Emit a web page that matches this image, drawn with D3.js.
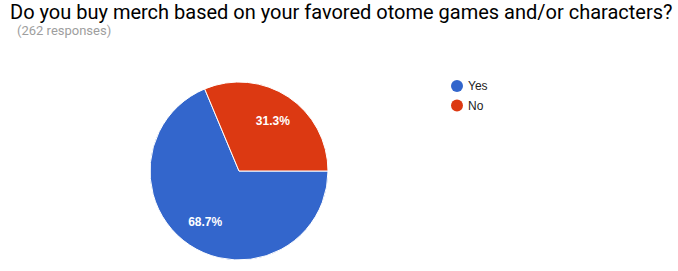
<!DOCTYPE html>
<html>
<head>
<meta charset="utf-8">
<script src="https://cdn.jsdelivr.net/npm/d3@7"></script>
<style>
  html, body { margin: 0; padding: 0; background: #fff; }
  svg { display: block; }
</style>
</head>
<body>
<svg id="chart" width="678" height="271"></svg>
<script>
// Survey answers and their share of the 262 responses
const categories = ["Yes", "No"];
const values = [68.7, 31.3];
const colors = ["#3366cc", "#dc3912"];
const title = "Do you buy merch based on your favored otome games and/or characters?";
const subtitle = "(262 responses)";

const svg = d3.select("#chart");

svg.append("text")
  .attr("x", 10)
  .attr("y", 19)
  .attr("font-family", "Roboto, sans-serif")
  .attr("font-size", 20)
  .attr("fill", "#000")
  .text(title);

svg.append("text")
  .attr("x", 17)
  .attr("y", 35)
  .attr("font-family", "Roboto, sans-serif")
  .attr("font-size", 13)
  .attr("fill", "#9e9e9e")
  .text(subtitle);

// Pie, first slice starting at 3 o'clock and running clockwise
const cx = 239, cy = 171, r = 89;
const data = categories.map((c, i) => ({ name: c, value: values[i], color: colors[i] }));

const pie = d3.pie()
  .value(d => d.value)
  .sort(null)
  .startAngle(Math.PI / 2)
  .endAngle(Math.PI / 2 + 2 * Math.PI);

const arc = d3.arc().innerRadius(0).outerRadius(r);
const labelArc = d3.arc().innerRadius(122).outerRadius(0);

const g = svg.append("g").attr("transform", `translate(${cx},${cy})`);
const arcs = pie(data);

g.selectAll("path.slice")
  .data(arcs)
  .join("path")
  .attr("class", "slice")
  .attr("d", arc)
  .attr("fill", d => d.data.color)
  .attr("stroke", "#fff")
  .attr("stroke-width", 1);

g.selectAll("text.pct")
  .data(arcs)
  .join("text")
  .attr("class", "pct")
  .attr("transform", d => {
    const [x, y] = labelArc.centroid(d);
    return `translate(${x},${y})`;
  })
  .attr("text-anchor", "middle")
  .attr("dy", "0.36em")
  .attr("font-family", "Arial, 'Liberation Sans', sans-serif")
  .attr("font-size", 12)
  .attr("font-weight", "bold")
  .attr("fill", "#fff")
  .text(d => d.data.value.toFixed(1) + "%");

// Legend
const legend = svg.append("g").attr("transform", "translate(457,86)");
const items = legend.selectAll("g.item")
  .data(data)
  .join("g")
  .attr("class", "item")
  .attr("transform", (d, i) => `translate(0,${i * 19.5})`);

items.append("circle")
  .attr("r", 6)
  .attr("fill", d => d.color);

items.append("text")
  .attr("x", 11)
  .attr("dy", "0.36em")
  .attr("font-family", "Arial, 'Liberation Sans', sans-serif")
  .attr("font-size", 12)
  .attr("fill", "#222")
  .text(d => d.name);
</script>
</body>
</html>
